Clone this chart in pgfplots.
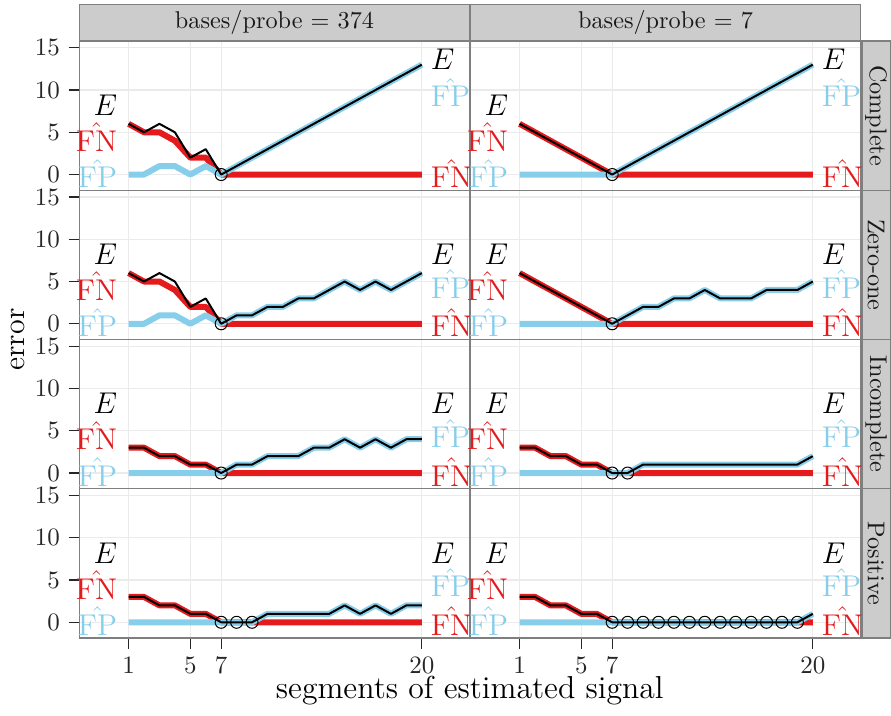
\documentclass[border=0pt]{standalone}
\usepackage{pgfplots}
\usepackage{pgfplotstable}
\pgfplotsset{compat=1.18}
\definecolor{fnred}{HTML}{E41A1C}
\definecolor{fpblue}{HTML}{87CEEB}
\definecolor{gridc}{HTML}{EBEBEB}
\definecolor{bord}{HTML}{7F7F7F}
\definecolor{stripc}{HTML}{CCCCCC}
\newcommand\lab{\fontsize{12}{14}\selectfont}
\newcommand\stripf{\fontsize{9.7}{11}\selectfont}

\pgfplotstableread{
x FN FP E
1 6 0 6
2 5 0 5
3 5 1 6
4 4 1 5
5 2 0 2
6 2 1 3
7 0 0 0
8 0 1 1
9 0 2 2
10 0 3 3
11 0 4 4
12 0 5 5
13 0 6 6
14 0 7 7
15 0 8 8
16 0 9 9
17 0 10 10
18 0 11 11
19 0 12 12
20 0 13 13
}\tabLa
\pgfplotstableread{
x FN FP E
1 6 0 6
2 5 0 5
3 5 1 6
4 4 1 5
5 2 0 2
6 2 1 3
7 0 0 0
8 0 1 1
9 0 1 1
10 0 2 2
11 0 2 2
12 0 3 3
13 0 3 3
14 0 4 4
15 0 5 5
16 0 4 4
17 0 5 5
18 0 4 4
19 0 5 5
20 0 6 6
}\tabLb
\pgfplotstableread{
x FN FP E
1 3 0 3
2 3 0 3
3 2 0 2
4 2 0 2
5 1 0 1
6 1 0 1
7 0 0 0
8 0 1 1
9 0 1 1
10 0 2 2
11 0 2 2
12 0 2 2
13 0 3 3
14 0 3 3
15 0 4 4
16 0 3 3
17 0 4 4
18 0 3 3
19 0 4 4
20 0 4 4
}\tabLc
\pgfplotstableread{
x FN FP E
1 3 0 3
2 3 0 3
3 2 0 2
4 2 0 2
5 1 0 1
6 1 0 1
7 0 0 0
8 0 0 0
9 0 0 0
10 0 1 1
11 0 1 1
12 0 1 1
13 0 1 1
14 0 1 1
15 0 2 2
16 0 1 1
17 0 2 2
18 0 1 1
19 0 2 2
20 0 2 2
}\tabLd
\pgfplotstableread{
x FN FP E
1 6 0 6
2 5 0 5
3 4 0 4
4 3 0 3
5 2 0 2
6 1 0 1
7 0 0 0
8 0 1 1
9 0 2 2
10 0 3 3
11 0 4 4
12 0 5 5
13 0 6 6
14 0 7 7
15 0 8 8
16 0 9 9
17 0 10 10
18 0 11 11
19 0 12 12
20 0 13 13
}\tabRa
\pgfplotstableread{
x FN FP E
1 6 0 6
2 5 0 5
3 4 0 4
4 3 0 3
5 2 0 2
6 1 0 1
7 0 0 0
8 0 1 1
9 0 2 2
10 0 2 2
11 0 3 3
12 0 3 3
13 0 4 4
14 0 3 3
15 0 3 3
16 0 3 3
17 0 4 4
18 0 4 4
19 0 4 4
20 0 5 5
}\tabRb
\pgfplotstableread{
x FN FP E
1 3 0 3
2 3 0 3
3 2 0 2
4 2 0 2
5 1 0 1
6 1 0 1
7 0 0 0
8 0 0 0
9 0 1 1
10 0 1 1
11 0 1 1
12 0 1 1
13 0 1 1
14 0 1 1
15 0 1 1
16 0 1 1
17 0 1 1
18 0 1 1
19 0 1 1
20 0 2 2
}\tabRc
\pgfplotstableread{
x FN FP E
1 3 0 3
2 3 0 3
3 2 0 2
4 2 0 2
5 1 0 1
6 1 0 1
7 0 0 0
8 0 0 0
9 0 0 0
10 0 0 0
11 0 0 0
12 0 0 0
13 0 0 0
14 0 0 0
15 0 0 0
16 0 0 0
17 0 0 0
18 0 0 0
19 0 0 0
20 0 1 1
}\tabRd

\pgfplotsset{panel/.style={
 scale only axis, width=156pt, height=59.7pt,
 xmin=-2.18, xmax=23.09, ymin=-1.86, ymax=15.8,
 xtick={1,5,7,20}, ytick={0,5,10,15},
 grid=major, major grid style={gridc, line width=0.45pt},
 axis line style={bord, line width=0.5pt},
 tick align=outside, major tick length=4.3pt,
 tick style={black!85, line width=0.5pt},
 xtick pos=bottom, ytick pos=left,
 tick label style={font=\fontsize{9.6}{11}\selectfont, text=black!85},
 clip=false, anchor=north west,
}}
\pgfplotsset{noxt/.style={xticklabels={}, xtick style={draw=none}},
             noyt/.style={yticklabels={}, ytick style={draw=none}}}

% #1 x, #2 y, #3 table, #4 opts, #5 minima, #6 right E y, #7 right mid y
\newcommand\panel[7]{%
\begin{axis}[panel, at={(#1pt,#2pt)}, #4]
\addplot[fnred, line width=2.4pt, line join=round] table[x=x,y=FN]{#3};
\addplot[fpblue, line width=2.4pt, line join=round] table[x=x,y=FP]{#3};
\addplot[black, line width=0.8pt, line join=round] table[x=x,y=E]{#3};
\addplot[only marks, mark=o, mark size=2.4pt, mark options={black, line width=0.4pt}] coordinates {#5};
\node[black, anchor=base east, inner sep=0pt, font=\lab] at (axis cs:0.29,7.0) {$E$};
\node[fnred, anchor=base east, inner sep=0pt, font=\lab] at (axis cs:0.29,2.75) {$\hat{\mathrm{FN}}$};
\node[fpblue, anchor=base east, inner sep=0pt, font=\lab] at (axis cs:0.29,-1.55) {$\hat{\mathrm{FP}}$};
\node[black, anchor=base west, inner sep=0pt, font=\lab] at (axis cs:20.56,#6) {$E$};
\node[fpblue, anchor=base west, inner sep=0pt, font=\lab] at (axis cs:20.56,#7) {$\hat{\mathrm{FP}}$};
\node[fnred, anchor=base west, inner sep=0pt, font=\lab] at (axis cs:20.56,-1.55) {$\hat{\mathrm{FN}}$};
\end{axis}}

\begin{document}
\begin{tikzpicture}
\useasboundingbox (0pt,0pt) rectangle (356.4pt,-286.4pt);
% top strips
\draw[bord, fill=stripc, line width=0.5pt] (31.8pt,-1.9pt) rectangle (187.8pt,-16.4pt);
\node[font=\stripf, text=black!90] at (109.8pt,-9.15pt) {bases/probe = 374};
\draw[bord, fill=stripc, line width=0.5pt] (188.2pt,-1.9pt) rectangle (344.2pt,-16.4pt);
\node[font=\stripf, text=black!90] at (266.2pt,-9.15pt) {bases/probe = 7};
% right strips
\draw[bord, fill=stripc, line width=0.5pt] (344.8pt,-16.4pt) rectangle (356.1pt,-76.1pt);
\node[font=\stripf, text=black!90, rotate=-90] at (350.45pt,-46.25pt) {Complete};
\draw[bord, fill=stripc, line width=0.5pt] (344.8pt,-76.1pt) rectangle (356.1pt,-135.8pt);
\node[font=\stripf, text=black!90, rotate=-90] at (350.45pt,-105.95pt) {Zero-one};
\draw[bord, fill=stripc, line width=0.5pt] (344.8pt,-135.8pt) rectangle (356.1pt,-195.5pt);
\node[font=\stripf, text=black!90, rotate=-90] at (350.45pt,-165.65pt) {Incomplete};
\draw[bord, fill=stripc, line width=0.5pt] (344.8pt,-195.5pt) rectangle (356.1pt,-255.2pt);
\node[font=\stripf, text=black!90, rotate=-90] at (350.45pt,-225.35pt) {Positive};

\panel{31.8}{-16.4}{\tabLa}{noxt}{(7,0)}{12.4}{8.0}
\panel{31.8}{-76.1}{\tabLb}{noxt}{(7,0)}{7.0}{3.0}
\panel{31.8}{-135.8}{\tabLc}{noxt}{(7,0)}{7.0}{3.0}
\panel{31.8}{-195.5}{\tabLd}{}{(7,0)(8,0)(9,0)}{7.0}{3.0}
\panel{188.2}{-16.4}{\tabRa}{noxt,noyt}{(7,0)}{12.4}{8.0}
\panel{188.2}{-76.1}{\tabRb}{noxt,noyt}{(7,0)}{7.0}{3.0}
\panel{188.2}{-135.8}{\tabRc}{noxt,noyt}{(7,0)(8,0)}{7.0}{3.0}
\panel{188.2}{-195.5}{\tabRd}{noyt}{(7,0)(8,0)(9,0)(10,0)(11,0)(12,0)(13,0)(14,0)(15,0)(16,0)(17,0)(18,0)(19,0)}{7.0}{3.0}

\node[font=\fontsize{12}{14}\selectfont, rotate=90] at (7.3pt,-135.8pt) {error};
\node[font=\fontsize{12.7}{15}\selectfont, anchor=base] at (187.9pt,-279.5pt) {segments of estimated signal};
\end{tikzpicture}
\end{document}
